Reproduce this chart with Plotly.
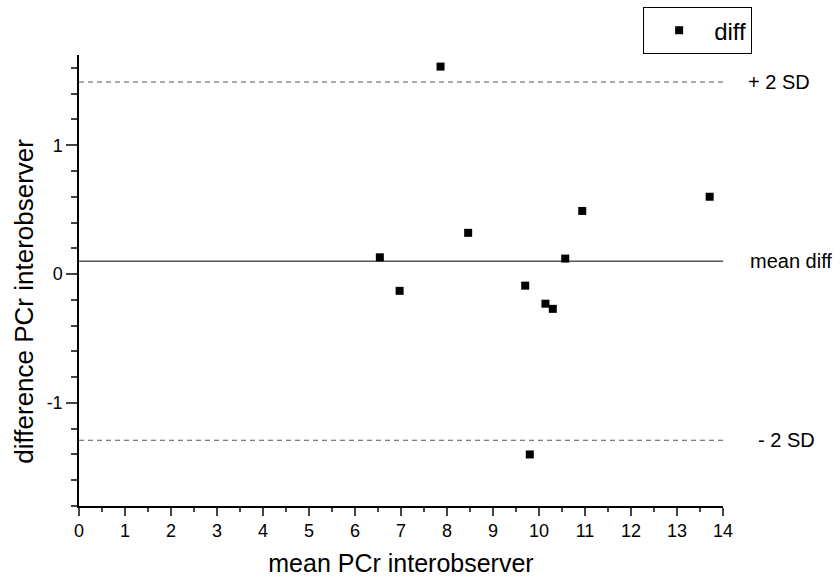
import plotly.graph_objects as go

# Data
mean_pcr = [6.54, 6.97, 7.86, 8.46, 9.70, 9.80, 10.14, 10.30, 10.57, 10.94, 13.71]
diff_pcr = [0.13, -0.13, 1.61, 0.32, -0.09, -1.40, -0.23, -0.27, 0.12, 0.49, 0.60]

mean_diff = 0.10
plus_2sd = 1.49
minus_2sd = -1.29
line_x = [0, 14]

x_ticks = list(range(0, 15))
y_tickvals = [-1, 0, 1]
y_ticktext = ["-1", "0", "1"]

FONT = "Arial, Liberation Sans, sans-serif"

fig = go.Figure()

fig.add_trace(go.Scatter(x=line_x, y=[plus_2sd, plus_2sd], mode="lines",
                         line=dict(color="#555555", width=1, dash="5px,4px"),
                         showlegend=False, hoverinfo="skip"))
fig.add_trace(go.Scatter(x=line_x, y=[minus_2sd, minus_2sd], mode="lines",
                         line=dict(color="#555555", width=1, dash="5px,4px"),
                         showlegend=False, hoverinfo="skip"))
fig.add_trace(go.Scatter(x=line_x, y=[mean_diff, mean_diff], mode="lines",
                         line=dict(color="black", width=1),
                         showlegend=False, hoverinfo="skip"))

fig.add_trace(go.Scatter(x=mean_pcr, y=diff_pcr, mode="markers", name="diff",
                         marker=dict(symbol="square", size=8, color="black")))

labels = [(plus_2sd, "+ 2 SD", 748), (mean_diff, "mean diff", 750), (minus_2sd, "- 2 SD", 758)]
for yv, txt, px in labels:
    fig.add_annotation(x=(px - 79) / 643.7, xref="paper", y=yv, yref="y",
                       text=txt, showarrow=False, xanchor="left", xshift=-2,
                       font=dict(family=FONT, size=20, color="black"))

# y-axis title (positioned as in the reference, slightly below plot centre)
fig.add_annotation(x=(24 - 79) / 643.7, xref="paper", y=(506.5 - 301) / 451.5, yref="paper",
                   text="difference PCr interobserver", textangle=-90, showarrow=False,
                   xanchor="center", yanchor="middle",
                   font=dict(family=FONT, size=26, color="black"))

fig.update_layout(
    width=840, height=581,
    margin=dict(l=79, r=117, t=55, b=75, autoexpand=False),
    paper_bgcolor="white", plot_bgcolor="white",
    font=dict(family=FONT, color="black"),
    legend=dict(x=0.876, y=1.106, xanchor="left", yanchor="top",
                bordercolor="black", borderwidth=1, bgcolor="white",
                itemwidth=60,
                font=dict(family=FONT, size=24, color="black")),
    xaxis=dict(range=[0, 14], tickvals=x_ticks, ticks="outside", ticklen=8, tickwidth=1.5,
               showline=True, linecolor="black", linewidth=1.5, showgrid=False, zeroline=False,
               tickfont=dict(size=18),
               minor=dict(dtick=0.5, tick0=0, ticks="outside", ticklen=4, tickwidth=1.5, showgrid=False),
               title=dict(text="mean PCr interobserver", font=dict(size=25), standoff=14)),
    yaxis=dict(range=[-1.8, 1.7], tickvals=y_tickvals, ticktext=y_ticktext, ticks="outside",
               ticklen=11, tickwidth=1.5,
               showline=True, linecolor="black", linewidth=1.5, showgrid=False, zeroline=False,
               tickfont=dict(size=18),
               minor=dict(dtick=0.2, tick0=0, ticks="outside", ticklen=6, tickwidth=1.5, showgrid=False)),
)

fig.write_html("out.html")
